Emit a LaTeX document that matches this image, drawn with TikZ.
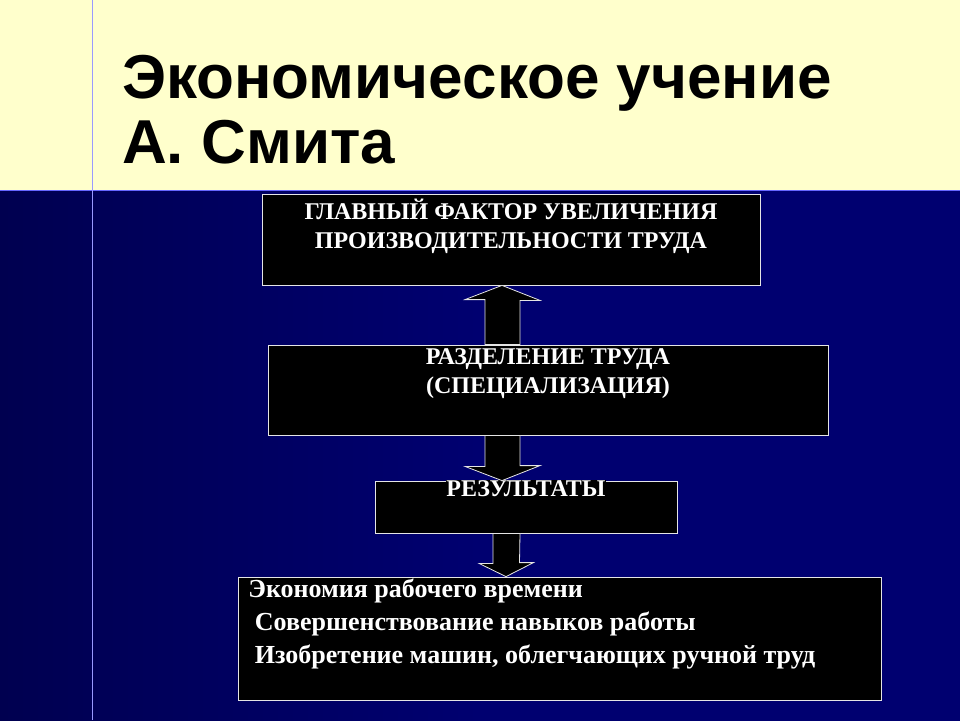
\documentclass[tikz,border=0pt]{standalone}
\usepackage{fontspec}
\setmainfont{Liberation Serif}
\newfontfamily\titlefont{Liberation Sans}
\usetikzlibrary{positioning,calc}
\definecolor{slideblue}{RGB}{0,0,112}
\definecolor{slidedeep}{RGB}{0,0,80}
\definecolor{bandcolor}{RGB}{255,255,204}

\begin{document}
\begin{tikzpicture}[
  x=1pt, y=-1pt,
  box/.style={rectangle, draw=white!80!gray, line width=0.8pt, fill=black, text=white, font=\bfseries\fontsize{24}{29}\selectfont, inner sep=0pt},
  blockarrow/.style={draw=white!80!gray, line width=0.8pt, fill=black}
]
  % background
  \useasboundingbox (0,0) rectangle (960,720);
  \shade[left color=slidedeep, right color=slideblue, middle color=slideblue] (0,190) rectangle (960,720);
  \fill[bandcolor] (0,0) rectangle (960,190);
  \draw[blue!60!white, line width=1pt] (0,190) -- (960,190);
  \draw[blue!40!white, line width=0.8pt] (92,0) -- (92,720);

  % title
  \node[anchor=base west, font=\titlefont\bfseries\fontsize{62}{65}\selectfont, inner sep=0pt] (title1) at (122,98) {Экономическое учение};
  \node[anchor=base west, font=\titlefont\bfseries\fontsize{62}{65}\selectfont, inner sep=0pt] (title2) at (122,163) {А. Смита};

  % boxes
  \node[box, minimum width=498pt, minimum height=91pt] (factor) at (511,239.5) {};
  \node[box, anchor=north, align=center, draw=none] (factortext) at (511,199) {ГЛАВНЫЙ ФАКТОР УВЕЛИЧЕНИЯ\\ПРОИЗВОДИТЕЛЬНОСТИ ТРУДА};
  \node[box, minimum width=560pt, minimum height=90pt] (division) at (548,390) {};
  \node[box, anchor=north, align=center, draw=none] (divisiontext) at (548,348) {РАЗДЕЛЕНИЕ ТРУДА\\(СПЕЦИАЛИЗАЦИЯ)};
  \node[box, minimum width=302pt, minimum height=52pt] (results) at (526,507) {};
  \node[box, anchor=north, draw=none] (resultstext) at (526,480) {РЕЗУЛЬТАТЫ};
  \node[box, minimum width=643pt, minimum height=123pt] (effects) at (559.5,638.5) {};
  \node[box, anchor=north west, align=left, draw=none, font=\bfseries\fontsize{26}{33}\selectfont] (effectstext) at (248,578) {Экономия рабочего времени\\ \ Совершенствование навыков работы\\ \ Изобретение машин, облегчающих ручной труд};

  % block arrows
  \draw[blockarrow] ($(division.north)+(-63,0)$) -- ++(0,-45) -- ++(-20,0) -- ($(factor.south)+(-9,0)$)
    -- ++(38,15) -- ++(-20,0) -- ($(division.north)+(-28,0)$) -- cycle;
  \draw[blockarrow] ($(division.south)+(-63,0)$) -- ++(0,31) -- ++(-20,0) -- ($(results.north)+(-24,0)$)
    -- ++(38,-15) -- ++(-20,0) -- ($(division.south)+(-28,0)$) -- cycle;
  \draw[blockarrow] ($(results.south)+(-33,0)$) -- ++(0,30) -- ++(-14,0) -- ($(effects.north)+(-53.5,0)$)
    -- ++(27.5,-14) -- ++(-14,0) -- ($(results.south)+(-6,0)$) -- cycle;
\end{tikzpicture}
\end{document}
